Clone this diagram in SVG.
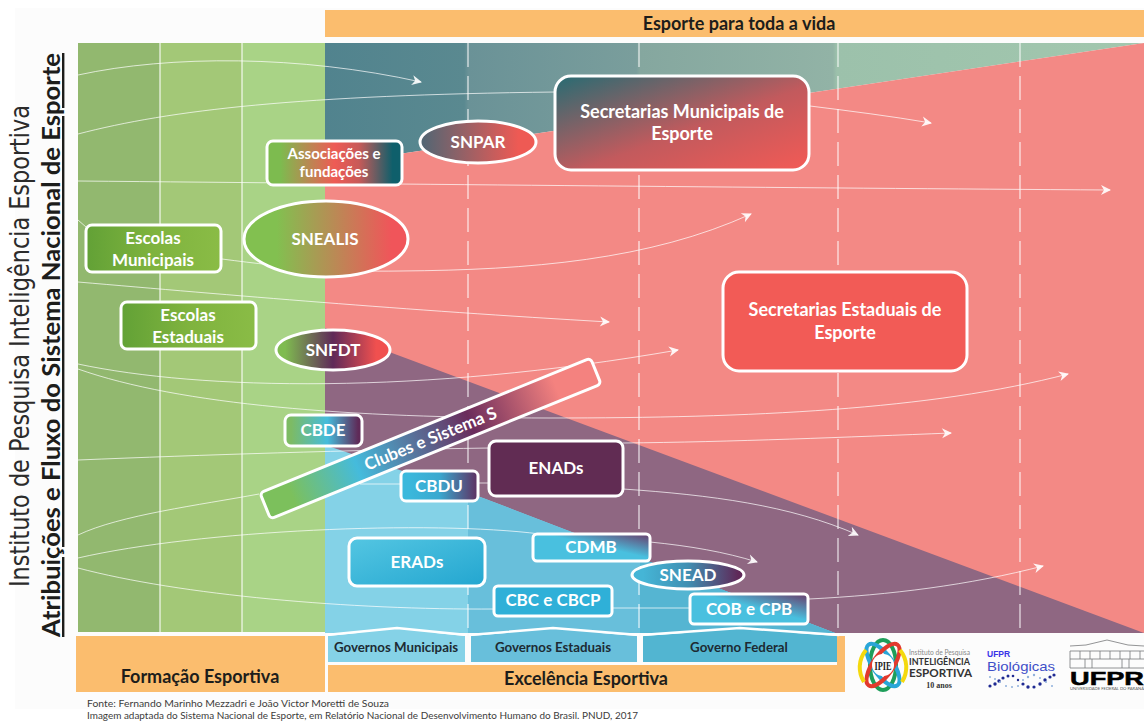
<svg xmlns="http://www.w3.org/2000/svg" width="1144" height="722" viewBox="0 0 1144 722">
<style>
text{font-family:"Lato","Noto Sans","Liberation Sans",sans-serif}
.n{fill:#fff;font-weight:700;text-anchor:middle;font-size:17px}
.s{stroke:#fff;stroke-width:3}
.d{fill:#1d1d1b;font-weight:700;text-anchor:middle;font-size:18px}
.g{fill:#1d2b33;font-weight:700;text-anchor:middle;font-size:13.3px}
.c{fill:none;stroke:#fff;stroke-opacity:.7;stroke-width:1}
.a{marker-end:url(#ah)}
.v{stroke:#fff;stroke-opacity:.7;stroke-width:1.5}
.dash{stroke-dasharray:24 9;stroke-width:1.4}
.dot{fill:#1f2a92}
.dot2{fill:#8fb0dc}
.b{fill:none;stroke:#77787b;stroke-width:.8}
</style>
<defs>
<marker id="ah" markerUnits="userSpaceOnUse" markerWidth="14" markerHeight="12" refX="9" refY="5" orient="auto" overflow="visible"><path d="M0,0 L10,5 L0,10 L3,5 Z" fill="#fff" fill-opacity=".9"/></marker>
<linearGradient id="teal" gradientUnits="userSpaceOnUse" x1="325" y1="0" x2="1144" y2="0"><stop offset="0" stop-color="#51838e"/><stop offset=".17" stop-color="#5a8990"/><stop offset=".175" stop-color="#6a9297"/><stop offset=".38" stop-color="#7a9e9c"/><stop offset=".385" stop-color="#85a79f"/><stop offset=".62" stop-color="#92b3a6"/><stop offset=".625" stop-color="#9cc1ab"/><stop offset="1" stop-color="#a2c7ae"/></linearGradient>
<linearGradient id="em" x1="0" y1="0" x2="1" y2="0"><stop offset="0" stop-color="#62a136"/><stop offset=".5" stop-color="#7fb33e"/><stop offset="1" stop-color="#8abc46"/></linearGradient>
<linearGradient id="assoc" x1="0" y1="0" x2="1" y2="0"><stop offset=".1" stop-color="#7dbb4f"/><stop offset=".5" stop-color="#ee5b55"/><stop offset=".68" stop-color="#c85a58"/><stop offset=".93" stop-color="#0f5f6b"/></linearGradient>
<linearGradient id="snealis" x1="0" y1="0" x2="1" y2="0"><stop offset=".2" stop-color="#82c050"/><stop offset=".9" stop-color="#f0555a"/></linearGradient>
<linearGradient id="snpar" x1="0" y1="0" x2="1" y2="0"><stop offset="0" stop-color="#4f6674"/><stop offset=".85" stop-color="#ee5a54"/></linearGradient>
<linearGradient id="snfdt" x1="0" y1="0" x2="1" y2="0"><stop offset=".08" stop-color="#7fbb50"/><stop offset=".5" stop-color="#5f2a58"/><stop offset=".88" stop-color="#f0504f"/></linearGradient>
<linearGradient id="secm" x1="0" y1="0" x2="1" y2="1"><stop offset=".02" stop-color="#2c6b72"/><stop offset=".55" stop-color="#c25a5d"/><stop offset="1" stop-color="#f35a55"/></linearGradient>
<linearGradient id="cbde" x1="0" y1="0" x2="1" y2="0"><stop offset=".08" stop-color="#7dbb64"/><stop offset=".55" stop-color="#45bcdc"/><stop offset=".95" stop-color="#5f2a58"/></linearGradient>
<linearGradient id="club" x1="0" y1="0" x2="1" y2="0"><stop offset=".08" stop-color="#7cc05c"/><stop offset=".28" stop-color="#45bbdc"/><stop offset=".62" stop-color="#6a2c5c"/><stop offset=".88" stop-color="#f4827f"/></linearGradient>
<linearGradient id="cbdu" x1="0" y1="0" x2="1" y2="0"><stop offset=".1" stop-color="#3bb8dc"/><stop offset=".5" stop-color="#3aa8cf"/><stop offset="1" stop-color="#5f2f60"/></linearGradient>
<linearGradient id="erad" x1="0" y1="0" x2="1" y2="1"><stop offset="0" stop-color="#54c6e2"/><stop offset="1" stop-color="#23a6d0"/></linearGradient>
<linearGradient id="cdmb" x1="0" y1="1" x2="1" y2="0"><stop offset=".55" stop-color="#49c0df"/><stop offset="1" stop-color="#6a3a68"/></linearGradient>
<linearGradient id="snead" x1="0" y1="0" x2="1" y2="0"><stop offset=".1" stop-color="#45b5d6"/><stop offset=".5" stop-color="#3f8fb2"/><stop offset=".95" stop-color="#5f2858"/></linearGradient>
</defs>
<rect x="15" y="8" width="1129" height="701" fill="#fcfcfc"/>
<g id="panels">
<rect x="325" y="10" width="819" height="27" fill="#fbbd6e"/>
<rect x="78" y="43" width="82" height="589" fill="#92b86f"/>
<rect x="160" y="43" width="82" height="589" fill="#a3c877"/>
<rect x="242" y="43" width="83" height="589" fill="#a9d386"/>
<polygon points="325,43 1144,43 1144,43 325,165" fill="url(#teal)"/>
<polygon points="325,165 1144,43 1144,633 325,633" fill="#f38985"/>
<polygon points="325,328 1144,633 325,633" fill="#8f6782"/>
<polygon points="325,445 483,498 835,633 325,633" fill="#84d2e7"/>
<polygon points="468,493 483,498 835,633 468,633" fill="#68bfdb"/>
<polygon points="640,558 835,633 640,633" fill="#55b5d2"/>
<path class="v" d="M160,43V632M242,43V632" fill="none"/>
<path class="v dash" d="M468,43V632M639,43V632M838,43V632M1020,43V632" fill="none"/>
</g>
<g id="base">
<rect x="76" y="636" width="249" height="56" fill="#fbbd6e"/>
<path d="M328,665H837V636H845V692H328Z" fill="#fbbd6e"/>
<polygon points="328,636 397,629 465,636 465,662 328,662" fill="#85d2e7"/>
<polygon points="471,636 553,629 637,636 637,662 471,662" fill="#68bfdb"/>
<polygon points="643,636 740,629 837,636 837,662 643,662" fill="#52b5d1"/>
<path d="M326,635 L397,628 L467,635 M469,635 L553,628 L639,635 M641,635 L740,628 L839,635" fill="none" stroke="#fff" stroke-width="2.4"/>
<text class="d" x="200" y="683">Formação Esportiva</text>
<text class="d" x="586" y="685">Excelência Esportiva</text>
<text class="d" x="739" y="30">Esporte para toda a vida</text>
<text class="g" x="396" y="652">Governos Municipais</text>
<text class="g" x="553" y="652">Governos Estaduais</text>
<text class="g" x="739" y="652">Governo Federal</text>
</g>
<g id="connectors">
<path class="c a" d="M78,75 C170,55 300,55 421,82"/>
<path class="c" d="M78,134 C170,110 300,95 556,92"/>
<path class="c a" d="M810,106 C850,111 890,116 931,123"/>
<path class="c a" d="M78,181 C400,184 800,188 1110,190"/>
<path class="c" d="M78,220 L86,227"/>
<path class="c a" d="M222,259 C290,268 340,272 400,271 C530,270 650,260 751,214"/>
<path class="c a" d="M78,282 C230,295 400,310 609,322"/>
<path class="c a" d="M78,364 C200,390 420,395 678,350"/>
<path class="c a" d="M78,369 C180,405 350,418 550,418 C750,418 930,410 1068,374"/>
<path class="c" d="M78,460 C200,455 350,450 490,448"/>
<path class="c a" d="M623,443 C730,442 850,437 951,433"/>
<path class="c" d="M78,535 C120,515 200,505 259,494"/>
<path class="c" d="M360,484 H402"/>
<path class="c" d="M478,483 H490"/>
<path class="c a" d="M623,489 C710,495 790,505 858,535"/>
<path class="c" d="M78,558 C200,530 430,520 540,534"/>
<path class="c a" d="M650,542 C690,546 725,552 757,562"/>
<path class="c" d="M78,568 C180,595 350,610 495,609"/>
<path class="c" d="M612,608 H691"/>
<path class="c a" d="M809,599 C890,595 970,585 1043,566"/>
</g>
<g id="escolas-municipais"><rect class="s" x="86" y="225" width="135" height="47" rx="6" fill="url(#em)"/><text class="n" x="153" y="244">Escolas</text><text class="n" x="153" y="266">Municipais</text></g>
<g id="escolas-estaduais"><rect class="s" x="121" y="302" width="135" height="47" rx="6" fill="url(#em)"/><text class="n" x="188" y="321">Escolas</text><text class="n" x="188" y="343">Estaduais</text></g>
<g id="associacoes"><rect class="s" x="267" y="141" width="135" height="44" rx="6" fill="url(#assoc)"/><text class="n" style="font-size:15px" x="334" y="159">Associações e</text><text class="n" style="font-size:15px" x="334" y="177">fundações</text></g>
<g id="snealis"><ellipse class="s" cx="326" cy="239" rx="82" ry="38" fill="url(#snealis)"/><text class="n" x="325" y="245">SNEALIS</text></g>
<g id="snpar"><ellipse class="s" cx="478" cy="142" rx="58" ry="21" fill="url(#snpar)"/><text class="n" x="478" y="148">SNPAR</text></g>
<g id="snfdt"><ellipse class="s" cx="333" cy="350" rx="57" ry="20" fill="url(#snfdt)"/><text class="n" x="333" y="356">SNFDT</text></g>
<g id="secretarias-municipais"><rect class="s" x="555" y="76" width="254" height="94" rx="16" fill="url(#secm)"/><text class="n" style="font-size:18px" x="682" y="118">Secretarias Municipais de</text><text class="n" style="font-size:18px" x="682" y="140">Esporte</text></g>
<g id="secretarias-estaduais"><rect class="s" x="723" y="272" width="244" height="99" rx="16" fill="#f25b56"/><text class="n" style="font-size:18px" x="845" y="316">Secretarias Estaduais de</text><text class="n" style="font-size:18px" x="845" y="339">Esporte</text></g>
<g id="clubes"><g transform="translate(430.5,438.5) rotate(-22.2)"><rect class="s" x="-178.5" y="-14" width="357" height="28" rx="4" fill="url(#club)"/><text class="n" x="0" y="6">Clubes e Sistema S</text></g></g>
<g id="cbde"><rect class="s" x="285" y="415" width="77" height="31" rx="6" fill="url(#cbde)"/><text class="n" x="323" y="436">CBDE</text></g>
<g id="enads"><rect class="s" x="489" y="441" width="134" height="55" rx="7" fill="#612c53"/><text class="n" x="556" y="474">ENADs</text></g>
<g id="cbdu"><rect class="s" x="401" y="471" width="77" height="30" rx="5" fill="url(#cbdu)"/><text class="n" x="439" y="492">CBDU</text></g>
<g id="erads"><rect class="s" x="349" y="538" width="136" height="48" rx="8" fill="url(#erad)"/><text class="n" x="417" y="568">ERADs</text></g>
<g id="cdmb"><rect class="s" x="533" y="534" width="117" height="27" rx="4" fill="url(#cdmb)"/><text class="n" x="591" y="553">CDMB</text></g>
<g id="snead"><ellipse class="s" cx="688" cy="575" rx="56" ry="14" fill="url(#snead)"/><text class="n" x="688" y="581">SNEAD</text></g>
<g id="cbc"><rect class="s" x="494" y="586" width="118" height="30" rx="4" fill="#2fb0d8"/><text class="n" x="553" y="606">CBC e CBCP</text></g>
<g id="cob"><rect class="s" x="690" y="594" width="118" height="30" rx="4" fill="url(#cdmb)"/><text class="n" x="749" y="615">COB e CPB</text></g>
<g id="titles">
<text transform="translate(29,587) rotate(-90)" font-size="26" fill="#2b2b2b" textLength="482" lengthAdjust="spacingAndGlyphs" style="font-family:'DejaVu Sans',sans-serif">Instituto de Pesquisa Inteligência Esportiva</text>
<text transform="translate(60,637) rotate(-90)" font-size="24" font-weight="700" fill="#1d1d1b" text-decoration="underline" textLength="584" lengthAdjust="spacingAndGlyphs">Atribuições e Fluxo do Sistema Nacional de Esporte</text>
</g>
<g id="source" font-size="10" fill="#3c3c3b">
<text x="87" y="707" textLength="302" lengthAdjust="spacingAndGlyphs">Fonte: Fernando Marinho Mezzadri e João Victor Moretti de Souza</text>
<text x="87" y="719" textLength="551" lengthAdjust="spacingAndGlyphs">Imagem adaptada do Sistema Nacional de Esporte, em Relatório Nacional de Desenvolvimento Humano do Brasil. PNUD, 2017</text>
</g>
<g id="logo-ipie">
<g fill="none" stroke-width="4">
<ellipse cx="883" cy="665" rx="13" ry="25" stroke="#1e9e5a"/>
<ellipse cx="883" cy="665" rx="25" ry="10" transform="rotate(55 883 665)" stroke="#2aa6d8"/>
<ellipse cx="883" cy="665" rx="25" ry="10" transform="rotate(-55 883 665)" stroke="#e23a2e"/>
<path d="M866,650 C858,660 858,672 864,682" stroke="#f4d90e"/>
<path d="M900,650 C908,660 908,672 902,682" stroke="#f4d90e"/>
</g>
<circle cx="883" cy="665" r="11" fill="#fff"/>
<text x="883" y="670" font-size="12" font-weight="700" text-anchor="middle" fill="#222" style="font-family:'Liberation Serif',serif" textLength="17" lengthAdjust="spacingAndGlyphs">IPIE</text>
<text x="909" y="655" font-size="7" fill="#888" textLength="61" lengthAdjust="spacingAndGlyphs">Instituto de Pesquisa</text>
<text x="909" y="665" font-size="9" font-weight="700" fill="#333" textLength="61" lengthAdjust="spacingAndGlyphs">INTELIGÊNCIA</text>
<text x="909" y="677" font-size="11" font-weight="700" fill="#333" textLength="63" lengthAdjust="spacingAndGlyphs">ESPORTIVA</text>
<text x="939" y="688" font-size="8" font-weight="700" text-anchor="middle" fill="#333" style="font-family:'Liberation Serif',serif">10 anos</text>
</g>
<g id="logo-biologicas">
<text x="987" y="657" font-size="8.5" font-weight="700" fill="#3a35e8" style="font-family:'Liberation Sans',sans-serif">UFPR</text>
<text x="987" y="671" font-size="13" fill="#3f4fc8" textLength="68" lengthAdjust="spacingAndGlyphs" style="font-family:'Liberation Sans',sans-serif">Biológicas</text>
<g class="dot"><circle cx="990" cy="686" r="1.6"/><circle cx="995" cy="684" r="1.7"/><circle cx="999" cy="681" r="1.7"/><circle cx="1003" cy="678" r="1.6"/><circle cx="1008" cy="676" r="1.5"/><circle cx="1013" cy="676" r="1.3"/><circle cx="1018" cy="680" r="1.2"/><circle cx="1023" cy="684" r="1.6"/><circle cx="1028" cy="687" r="1.7"/><circle cx="1034" cy="687" r="1.6"/><circle cx="1040" cy="684" r="1.7"/><circle cx="1045" cy="680" r="1.7"/><circle cx="1050" cy="677" r="1.6"/><circle cx="1054" cy="675" r="1.6"/></g>
<g class="dot2"><circle cx="990" cy="677" r="1"/><circle cx="995" cy="679" r="1"/><circle cx="1000" cy="682" r="1"/><circle cx="1006" cy="686" r="1"/><circle cx="1012" cy="687" r="1"/><circle cx="1018" cy="686" r="1"/><circle cx="1023" cy="680" r="1"/><circle cx="1028" cy="677" r="1.2"/><circle cx="1034" cy="675" r="1.2"/><circle cx="1040" cy="678" r="1"/><circle cx="1046" cy="682" r="1"/><circle cx="1052" cy="686" r="1"/></g>
</g>
<g id="logo-ufpr">
<path class="b" d="M1070,646 L1086,645 L1107,640 L1128,645 L1144,646 M1070,651H1144M1070,659H1144M1070,668H1144M1070,651V668M1080,651V659M1090,651V659M1100,651V659M1110,651V659M1120,651V659M1130,651V659M1140,651V659M1085,659V668M1092,659V668M1122,659V668M1129,659V668"/>
<text x="1070" y="685" font-size="19" font-weight="700" fill="#000" textLength="74" lengthAdjust="spacingAndGlyphs" style="font-family:'Liberation Sans',sans-serif;stroke:#000;stroke-width:.5">UFPR</text>
<text x="1070" y="690" font-size="3.5" fill="#555" textLength="74" lengthAdjust="spacingAndGlyphs">UNIVERSIDADE FEDERAL DO PARANÁ</text>
</g>
</svg>
